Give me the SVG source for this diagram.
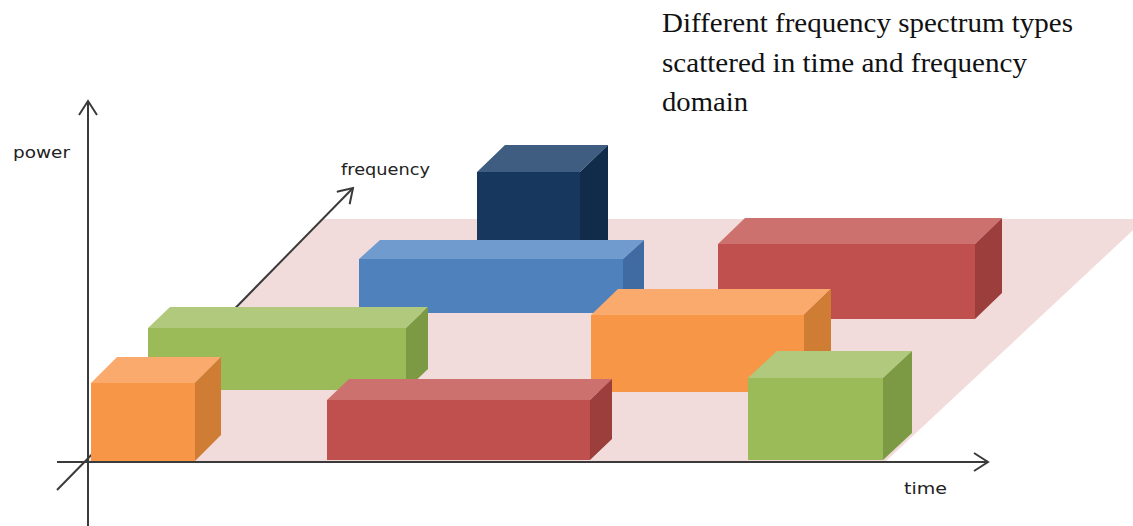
<svg xmlns="http://www.w3.org/2000/svg" width="1133" height="526" viewBox="0 0 1133 526">
  <style>
    .axis { stroke: #3a3a3a; stroke-width: 2; fill: none; }
    .lbl { font-family: "DejaVu Sans", Verdana, sans-serif; font-size: 15px; fill: #222; }
    .title { font-family: "Liberation Serif", "Times New Roman", serif; font-size: 28px; fill: #111; }
    .orange .f { fill: #F79646; } .orange .t { fill: #F9AA6C; } .orange .s { fill: #CF7C34; }
    .green .f { fill: #9BBB59; } .green .t { fill: #B0C97C; } .green .s { fill: #7C9A43; }
    .red .f { fill: #C0504D; } .red .t { fill: #CD716F; } .red .s { fill: #9C3E3C; }
    .blue .f { fill: #4F81BD; } .blue .t { fill: #709BCF; } .blue .s { fill: #3F6AA2; }
    .navy .f { fill: #17375E; } .navy .t { fill: #3F5D80; } .navy .s { fill: #112B4B; }
  </style>
  <defs>
    <marker id="arrow" viewBox="0 0 20 20" refX="18" refY="10" markerWidth="20" markerHeight="20" markerUnits="userSpaceOnUse" orient="auto">
      <path d="M4,1 L18,10 L4,19" fill="none" stroke="#3a3a3a" stroke-width="2"/>
    </marker>
  </defs>

  <rect width="1133" height="526" fill="#ffffff"/>

  <!-- time-frequency plane -->
  <polygon id="plane" points="88,461 886,461 1145,219 323,219" fill="#F2DCDB"/>

  <!-- axes -->
  <g id="connectors">
    <line class="axis" x1="88" y1="526" x2="88" y2="101" marker-end="url(#arrow)"/>
    <line class="axis" x1="57" y1="462" x2="988" y2="462" marker-end="url(#arrow)"/>
    <line class="axis" x1="57" y1="490" x2="353" y2="188" marker-end="url(#arrow)"/>
  </g>

  <!-- boxes (back to front) -->
  <g id="box-navy" class="navy">
    <rect class="f" x="477" y="172" width="103" height="96"/>
    <polygon class="t" points="477,172 505,145 608,145 580,172"/>
    <polygon class="s" points="580,172 608,145 608,241 580,268"/>
  </g>
  <g id="box-red-back" class="red">
    <rect class="f" x="718" y="244" width="257" height="75"/>
    <polygon class="t" points="718,244 745,218 1002,218 975,244"/>
    <polygon class="s" points="975,244 1002,218 1002,293 975,319"/>
  </g>
  <g id="box-blue" class="blue">
    <rect class="f" x="359" y="259" width="264" height="54"/>
    <polygon class="t" points="359,259 380,240 644,240 623,259"/>
    <polygon class="s" points="623,259 644,240 644,294 623,313"/>
  </g>
  <g id="box-orange-big" class="orange">
    <rect class="f" x="591" y="315" width="213" height="77"/>
    <polygon class="t" points="591,315 618,289 831,289 804,315"/>
    <polygon class="s" points="804,315 831,289 831,366 804,392"/>
  </g>
  <g id="box-green-long" class="green">
    <rect class="f" x="148" y="328" width="258" height="62"/>
    <polygon class="t" points="148,328 170,307 428,307 406,328"/>
    <polygon class="s" points="406,328 428,307 428,369 406,390"/>
  </g>
  <g id="box-orange-small" class="orange">
    <rect class="f" x="91" y="383" width="104" height="78"/>
    <polygon class="t" points="91,383 117,357 221,357 195,383"/>
    <polygon class="s" points="195,383 221,357 221,435 195,461"/>
  </g>
  <g id="box-red-front" class="red">
    <rect class="f" x="327" y="400" width="263" height="60"/>
    <polygon class="t" points="327,400 349,379 612,379 590,400"/>
    <polygon class="s" points="590,400 612,379 612,439 590,460"/>
  </g>
  <g id="box-green-small" class="green">
    <rect class="f" x="748" y="378" width="135" height="82"/>
    <polygon class="t" points="748,378 777,351 912,351 883,378"/>
    <polygon class="s" points="883,378 912,351 912,433 883,460"/>
  </g>

  <!-- labels -->
  <g id="labels">
    <text class="lbl" x="13" y="158" textLength="57" lengthAdjust="spacingAndGlyphs">power</text>
    <text class="lbl" x="341" y="175" textLength="89" lengthAdjust="spacingAndGlyphs">frequency</text>
    <text class="lbl" x="904" y="494" textLength="43" lengthAdjust="spacingAndGlyphs">time</text>
  </g>

  <g id="title">
    <text class="title" x="662" y="32" textLength="411" lengthAdjust="spacingAndGlyphs">Different frequency spectrum types</text>
    <text class="title" x="662" y="72" textLength="365" lengthAdjust="spacingAndGlyphs">scattered in time and frequency</text>
    <text class="title" x="662" y="111" textLength="86" lengthAdjust="spacingAndGlyphs">domain</text>
  </g>
</svg>
